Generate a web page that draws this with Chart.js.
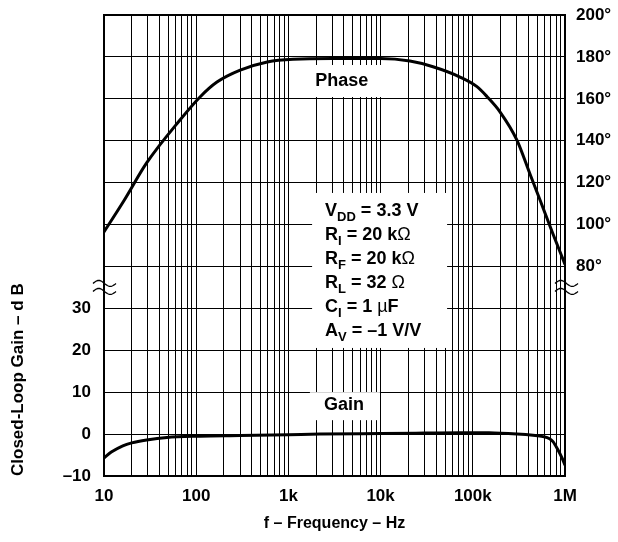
<!DOCTYPE html>
<html>
<head>
<meta charset="utf-8">
<script src="https://cdn.jsdelivr.net/npm/chart.js"></script>
<style>
  html, body { margin: 0; padding: 0; background: #fff; }
  #wrap { width: 618px; height: 542px; }
</style>
</head>
<body>
<div id="wrap"><canvas id="chart" width="618" height="542"></canvas></div>
<script>
// values
const phaseFreq = [10, 16.5, 29, 66.7, 110, 168, 300, 590, 1120, 3000, 10000, 20800, 37000, 72600, 111000, 143000, 197000, 301000, 417000, 536000, 741000, 1000000];
const phaseDeg = [96.5, 111.5, 129.4, 149.9, 160.9, 168, 173.7, 177.6, 178.9, 179.2, 179.2, 178, 175.3, 170.4, 165.8, 161, 153.8, 140.3, 124.1, 111.7, 95.5, 81];

const gainFreq = [10, 12, 16, 20, 29, 48, 110, 300, 1000, 2200, 10000, 30000, 72600, 150000, 301000, 450000, 577000, 680000, 741000, 840000, 928000, 1000000];
const gainDb = [-5.7, -4.3, -2.8, -2.1, -1.4, -0.8, -0.5, -0.35, -0.15, 0, 0.15, 0.25, 0.33, 0.3, 0, -0.3, -0.6, -1.1, -1.8, -3.8, -5.7, -7.4];

const decades = [10, 100, 1000, 10000, 100000, 1000000];
const freqLabels = ["10", "100", "1k", "10k", "100k", "1M"];
const gainTicks = [-10, 0, 10, 20, 30];
const phaseTicks = [80, 100, 120, 140, 160, 180, 200];

const conditions = [
  [["V"], ["DD", "sub"], [" = 3.3 V"]],
  [["R"], ["I", "sub"], [" = 20 k"], ["\u03A9", "sym"]],
  [["R"], ["F", "sub"], [" = 20 k"], ["\u03A9", "sym"]],
  [["R"], ["L", "sub"], [" = 32 "], ["\u03A9", "sym"]],
  [["C"], ["I", "sub"], [" = 1 "], ["\u00B5", "sym"], ["F"]],
  [["A"], ["V", "sub"], [" = \u20131 V/V"]]
];

const FONT = "'Liberation Sans', Arial, Helvetica, sans-serif";

// every vertical grid line: 1..9 per decade, then the last decade
const gridFreqs = [];
for (let i = 0; i < decades.length - 1; i++) {
  for (let m = 1; m < 10; m++) gridFreqs.push(decades[i] * m);
}
gridFreqs.push(decades[decades.length - 1]);

function toPoints(xs, ys) {
  return xs.map((x, i) => ({ x: x, y: ys[i] }));
}

function drawRuns(ctx, runs, x, y) {
  runs.forEach(run => {
    const text = run[0];
    const kind = run[1];
    let dy = 0;
    if (kind === "sub") {
      ctx.font = "bold 13px " + FONT;
      dy = 5;
    } else if (kind === "sym") {
      ctx.font = "18px " + FONT;
    } else {
      ctx.font = "bold 18px " + FONT;
    }
    ctx.fillText(text, x, y + dy);
    x += ctx.measureText(text).width;
  });
}

const labelBoxes = {
  id: "labelBoxes",
  beforeDatasetsDraw(chart) {
    const ctx = chart.ctx;
    const xs = chart.scales.x;
    const yG = chart.scales.y;
    const yP = chart.scales.y2;
    ctx.save();

    // "Phase"
    let px = xs.getPixelForValue(3800);
    let py = yP.getPixelForValue(168.5);
    ctx.fillStyle = "#fff";
    ctx.fillRect(px - 50, py - 16, 100, 32);
    ctx.fillStyle = "#000";
    ctx.font = "bold 18px " + FONT;
    ctx.textAlign = "center";
    ctx.textBaseline = "middle";
    ctx.fillText("Phase", px, py);

    // "Gain"
    px = xs.getPixelForValue(4000);
    py = yG.getPixelForValue(6.9);
    ctx.fillStyle = "#fff";
    ctx.fillRect(px - 34, py - 13, 70, 28);
    ctx.fillStyle = "#000";
    ctx.fillText("Gain", px, py);

    // test conditions
    px = xs.getPixelForValue(2500);
    py = yP.getPixelForValue(104.1);
    ctx.fillStyle = "#fff";
    ctx.fillRect(px - 13, py - 23, 135, 155);
    ctx.fillStyle = "#000";
    ctx.textAlign = "left";
    ctx.textBaseline = "alphabetic";
    conditions.forEach((runs, i) => drawRuns(ctx, runs, px, py + i * 24));
    ctx.restore();
  }
};

function wave(ctx, x0, w, y) {
  ctx.beginPath();
  for (let i = 0; i <= 24; i++) {
    const t = i / 24;
    const yy = y - 3 * Math.sin(t * Math.PI * 2);
    if (i === 0) ctx.moveTo(x0 + t * w, yy);
    else ctx.lineTo(x0 + t * w, yy);
  }
  ctx.stroke();
}

const frameAndBreaks = {
  id: "frameAndBreaks",
  afterDraw(chart) {
    const ctx = chart.ctx;
    const a = chart.chartArea;
    ctx.save();
    ctx.strokeStyle = "#000";
    ctx.lineWidth = 2;
    ctx.strokeRect(a.left, a.top, a.right - a.left, a.bottom - a.top);

    // axis break between the phase and gain parts
    const yb = (chart.scales.y2.getPixelForValue(80) + chart.scales.y.getPixelForValue(30)) / 2;
    ctx.lineWidth = 1.3;
    [a.left - 11, a.right - 10].forEach(x0 => {
      wave(ctx, x0, 23, yb - 4);
      wave(ctx, x0, 23, yb + 4);
    });
    ctx.restore();
  }
};

const tickFont = { family: FONT, size: 17, weight: "bold" };
const titleFont = { family: FONT, size: 16, weight: "bold" };

function fixWidth(w) {
  return scale => {
    scale.width = w;
    scale.paddingTop = 0;
    scale.paddingBottom = 0;
  };
}

new Chart(document.getElementById("chart"), {
  type: "line",
  data: {
    datasets: [
      {
        label: "Phase",
        data: toPoints(phaseFreq, phaseDeg),
        yAxisID: "y2",
        borderColor: "#000",
        borderWidth: 3,
        pointRadius: 0,
        cubicInterpolationMode: "monotone",
        fill: false
      },
      {
        label: "Gain",
        data: toPoints(gainFreq, gainDb),
        yAxisID: "y",
        borderColor: "#000",
        borderWidth: 3,
        pointRadius: 0,
        cubicInterpolationMode: "monotone",
        fill: false
      }
    ]
  },
  options: {
    responsive: false,
    animation: false,
    layout: { padding: { top: 15, left: 0, right: 0, bottom: 0 } },
    plugins: {
      legend: { display: false },
      tooltip: { enabled: false }
    },
    scales: {
      x: {
        type: "logarithmic",
        position: "bottom",
        min: 10,
        max: 1000000,
        afterBuildTicks: scale => {
          scale.ticks = gridFreqs.map(v => ({ value: v }));
        },
        afterFit: scale => {
          scale.height = 66;
        },
        ticks: {
          autoSkip: false,
          maxRotation: 0,
          color: "#000",
          font: tickFont,
          padding: 10,
          callback: value => {
            const i = decades.indexOf(value);
            return i >= 0 ? freqLabels[i] : "";
          }
        },
        grid: { color: "#000", lineWidth: 1, drawTicks: false },
        border: { display: false },
        title: {
          display: true,
          text: "f \u2013 Frequency \u2013 Hz",
          color: "#000",
          font: titleFont,
          padding: { top: 0, bottom: 9 }
        }
      },
      y: {
        type: "linear",
        position: "left",
        min: -10,
        max: 100,
        afterFit: fixWidth(104),
        ticks: {
          stepSize: 10,
          color: "#000",
          font: tickFont,
          padding: 13,
          callback: value => {
            if (gainTicks.indexOf(value) < 0) return "";
            return value < 0 ? "\u2013" + Math.abs(value) : String(value);
          }
        },
        grid: { color: "#000", lineWidth: 1, drawTicks: false },
        border: { display: false },
        title: {
          display: true,
          text: "Closed-Loop Gain \u2013 d B",
          align: "start",
          color: "#000",
          font: { family: FONT, size: 17, weight: "bold" },
          padding: { top: 8, bottom: 0 }
        }
      },
      y2: {
        type: "linear",
        position: "right",
        min: -20,
        max: 200,
        afterFit: fixWidth(53),
        ticks: {
          stepSize: 20,
          color: "#000",
          font: tickFont,
          padding: 11,
          callback: value => phaseTicks.indexOf(value) >= 0 ? value + "\u00B0" : ""
        },
        grid: { drawOnChartArea: false, drawTicks: false },
        border: { display: false }
      }
    }
  },
  plugins: [labelBoxes, frameAndBreaks]
});
</script>
</body>
</html>
